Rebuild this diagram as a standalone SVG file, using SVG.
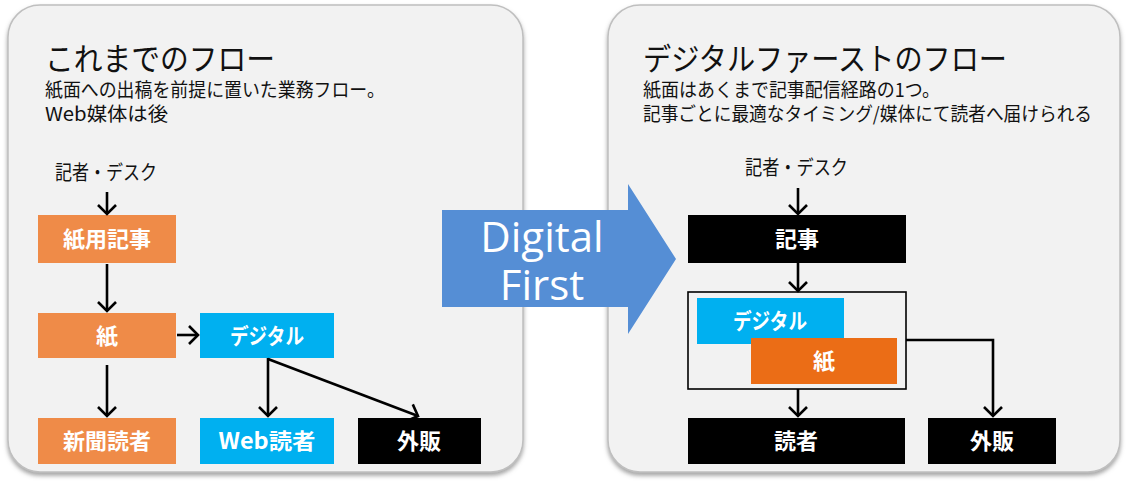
<svg xmlns="http://www.w3.org/2000/svg" width="1132" height="484" viewBox="0 0 1132 484">
<style>
.panel{fill:#f2f2f2;stroke:#bfbfbf;stroke-width:1.5}
.jp{font-family:"Noto Sans CJK JP","Liberation Sans",sans-serif;fill:#111}
.title{font-size:31px}
.sub{font-size:19px}
.label{font-size:20px}
.bx{font-family:"Noto Sans CJK JP","Liberation Sans",sans-serif;font-size:22px;font-weight:bold;fill:#fff;text-anchor:middle}
.or{fill:#ef8b48}
.or2{fill:#eb6d16}
.cy{fill:#00b0f0}
.bk{fill:#000}
.ln{fill:none;stroke:#000;stroke-width:2.6;marker-end:url(#ah)}
</style>
<defs>
<filter id="sh" x="-5%" y="-5%" width="110%" height="112%">
<feDropShadow dx="0" dy="3" stdDeviation="2" flood-color="#7f7f7f" flood-opacity="0.7"/>
</filter>
<marker id="ah" viewBox="-12 -12 14 24" refX="0" refY="0" markerWidth="14" markerHeight="24" markerUnits="userSpaceOnUse" orient="auto">
<path d="M-9,-9 L0,0 L-9,9" fill="none" stroke="#000" stroke-width="2.6"/>
</marker>
</defs>

<g id="panel-left">
<rect class="panel" x="8" y="5" width="515" height="467" rx="32" ry="32" filter="url(#sh)"/>
<text class="jp"><tspan class="title" x="45" y="70" textLength="230" lengthAdjust="spacingAndGlyphs">これまでのフロー</tspan><tspan class="sub" x="45" y="97" textLength="340" lengthAdjust="spacingAndGlyphs">紙面への出稿を前提に置いた業務フロー。</tspan><tspan class="sub" x="45" y="121" textLength="123" lengthAdjust="spacingAndGlyphs">Web媒体は後</tspan></text>
</g>

<g id="panel-right">
<rect class="panel" x="608" y="5" width="512" height="467" rx="32" ry="32" filter="url(#sh)"/>
<text class="jp"><tspan class="title" x="643" y="70" textLength="364" lengthAdjust="spacingAndGlyphs">デジタルファーストのフロー</tspan><tspan class="sub" x="643" y="97" textLength="297" lengthAdjust="spacingAndGlyphs">紙面はあくまで記事配信経路の1つ。</tspan><tspan class="sub" x="643" y="121" textLength="449" lengthAdjust="spacingAndGlyphs">記事ごとに最適なタイミング/媒体にて読者へ届けられる</tspan></text>
</g>

<g id="digital-first">
<polygon points="442,210 628,210 628,184 676,259 628,334 628,307 442,307" fill="#558ed5"/>
<text font-family="'Open Sans','Noto Sans',sans-serif" font-size="42" fill="#fff" text-anchor="middle"><tspan x="542" y="252">Digital</tspan><tspan x="542" y="300">First</tspan></text>
</g>

<g id="left-source">
<text class="jp label" x="55" y="180" textLength="102" lengthAdjust="spacingAndGlyphs">記者・デスク</text>
</g>
<g id="left-kiji">
<rect class="or" x="38" y="215" width="138" height="48"/>
<text class="bx" x="107" y="247">紙用記事</text>
</g>
<g id="left-kami">
<rect class="or" x="38" y="313" width="138" height="45"/>
<text class="bx" x="107" y="344">紙</text>
</g>
<g id="left-digital">
<rect class="cy" x="200" y="313" width="134" height="45"/>
<text class="bx" x="267" y="344" textLength="74" lengthAdjust="spacingAndGlyphs">デジタル</text>
</g>
<g id="left-shinbun">
<rect class="or" x="38" y="418" width="138" height="46"/>
<text class="bx" x="107" y="449">新聞読者</text>
</g>
<g id="left-web">
<rect class="cy" x="200" y="418" width="134" height="46"/>
<text class="bx" x="267" y="449" textLength="97" lengthAdjust="spacingAndGlyphs">Web読者</text>
</g>
<g id="left-gaihan">
<rect class="bk" x="358" y="418" width="123" height="46"/>
<text class="bx" x="419" y="449">外販</text>
</g>

<g id="right-source">
<text class="jp label" x="745" y="175" textLength="103" lengthAdjust="spacingAndGlyphs">記者・デスク</text>
</g>
<g id="right-kiji">
<rect class="bk" x="688" y="215" width="218" height="48"/>
<text class="bx" x="797" y="247">記事</text>
</g>
<g id="right-media">
<rect x="688" y="292" width="218" height="97" fill="#f2f2f2" stroke="#000" stroke-width="1.6"/>
<rect class="cy" x="697" y="298" width="147" height="46"/>
<text class="bx" x="770" y="329" textLength="74" lengthAdjust="spacingAndGlyphs">デジタル</text>
<rect class="or2" x="751" y="338" width="146" height="46"/>
<text class="bx" x="824" y="369">紙</text>
</g>
<g id="right-dokusha">
<rect class="bk" x="688" y="418" width="217" height="46"/>
<text class="bx" x="796" y="449">読者</text>
</g>
<g id="right-gaihan">
<rect class="bk" x="928" y="418" width="128" height="46"/>
<text class="bx" x="992" y="449">外販</text>
</g>

<g id="connectors">
<line class="ln" x1="107" y1="192" x2="107" y2="214"/>
<line class="ln" x1="107" y1="264" x2="107" y2="311"/>
<line class="ln" x1="177" y1="335" x2="198" y2="335"/>
<line class="ln" x1="107" y1="365" x2="107" y2="416"/>
<line class="ln" x1="268" y1="358" x2="268" y2="416"/>
<line class="ln" x1="268" y1="359" x2="418" y2="416"/>
<line class="ln" x1="798" y1="188" x2="798" y2="214"/>
<line class="ln" x1="798" y1="263" x2="798" y2="291"/>
<line class="ln" x1="798" y1="389" x2="798" y2="416"/>
<polyline class="ln" points="906,340 993,340 993,416"/>
</g>
</svg>
